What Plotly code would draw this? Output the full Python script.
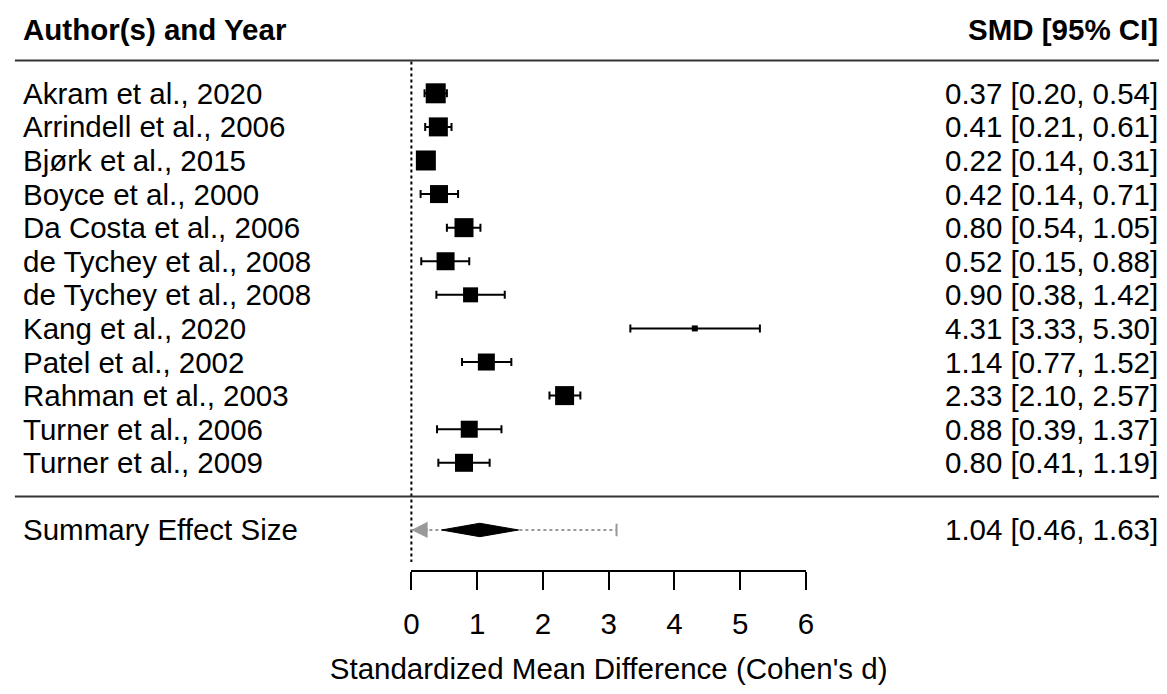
import plotly.graph_objects as go

# ---- data ----
studies = ["Akram et al., 2020", "Arrindell et al., 2006", "Bjørk et al., 2015",
           "Boyce et al., 2000", "Da Costa et al., 2006", "de Tychey et al., 2008",
           "de Tychey et al., 2008", "Kang et al., 2020", "Patel et al., 2002",
           "Rahman et al., 2003", "Turner et al., 2006", "Turner et al., 2009"]
smd = [0.37, 0.41, 0.22, 0.42, 0.80, 0.52, 0.90, 4.31, 1.14, 2.33, 0.88, 0.80]
ci_lo = [0.20, 0.21, 0.14, 0.14, 0.54, 0.15, 0.38, 3.33, 0.77, 2.10, 0.39, 0.41]
ci_hi = [0.54, 0.61, 0.31, 0.71, 1.05, 0.88, 1.42, 5.30, 1.52, 2.57, 1.37, 1.19]

summary_est = 1.04
summary_lo = 0.46
summary_hi = 1.63
pi_lo = -1.04
pi_hi = 3.12

x_ticks = [0, 1, 2, 3, 4, 5, 6]
x_min, x_max = 0, 6

# ---- styling ----
marker_px = [20, 19, 20, 18, 19, 18, 15, 6, 17, 19, 17, 18]
FONT = "Liberation Sans, Arial, sans-serif"
FS = 29.5
W, H = 1167, 694
px0, px6 = 409, 809
ppu = (px6 - px0) / (x_max - x_min)
row0_px, row_step = 93.3, 33.59
left_text_px, right_text_px = 15, 1166

rows = list(range(1, len(studies) + 1))
summary_row = len(studies) + 2
sep_row = len(studies) + 1
header_row = -0.9

xr = [x_min - px0 / ppu, x_min + (W - px0) / ppu]
yr = [1 + (H - row0_px) / row_step, 1 - row0_px / row_step]

fig = go.Figure()

# reference line at 0
fig.add_trace(go.Scatter(x=[0, 0], y=[0.05, 14.95], mode="lines",
                         line=dict(color="black", width=2, dash="dot"),
                         hoverinfo="skip", showlegend=False))

# study estimates with CIs
fig.add_trace(go.Scatter(
    x=smd, y=rows, mode="markers",
    marker=dict(symbol="square", size=marker_px, color="black", opacity=1,
                line=dict(width=0)),
    error_x=dict(type="data", symmetric=False,
                 array=[h - e for h, e in zip(ci_hi, smd)],
                 arrayminus=[e - l for e, l in zip(smd, ci_lo)],
                 color="black", thickness=2, width=4),
    showlegend=False, cliponaxis=False))

# prediction interval (dotted gray)
fig.add_trace(go.Scatter(x=[max(pi_lo, x_min), pi_hi], y=[summary_row] * 2,
                         mode="lines", line=dict(color="#999999", width=2, dash="dot"),
                         showlegend=False, hoverinfo="skip"))
fig.add_trace(go.Scatter(x=[pi_hi], y=[summary_row], mode="markers",
                         marker=dict(symbol="line-ns", size=9, opacity=1,
                                     line=dict(color="#999999", width=2)),
                         showlegend=False, cliponaxis=False))
fig.add_annotation(x=max(pi_lo, x_min), y=summary_row, xref="x", yref="y",
                   ax=18, ay=0, axref="pixel", ayref="pixel", text="",
                   showarrow=True, arrowhead=2, arrowsize=1.3, arrowwidth=2.5,
                   arrowcolor="#999999")

# summary diamond
dh = 0.2
fig.add_trace(go.Scatter(
    x=[summary_lo, summary_est, summary_hi, summary_est, summary_lo],
    y=[summary_row, summary_row - dh, summary_row, summary_row + dh, summary_row],
    mode="lines", fill="toself", fillcolor="black",
    line=dict(color="black", width=1), showlegend=False))

# axis-only subplot
fig.add_trace(go.Scatter(x=[None], y=[None], xaxis="x2", yaxis="y2",
                         showlegend=False))

# texts
def fmt(e, l, h):
    return f"{e:.2f} [{l:.2f}, {h:.2f}]"

ann = []
ann.append(dict(x=left_text_px / W, y=header_row, text="<b>Author(s) and Year</b>", xanchor="left"))
ann.append(dict(x=right_text_px / W, y=header_row, text="<b>SMD [95% CI]</b>", xanchor="right"))
for r, s, e, l, h in zip(rows, studies, smd, ci_lo, ci_hi):
    ann.append(dict(x=left_text_px / W, y=r, text=s, xanchor="left"))
    ann.append(dict(x=right_text_px / W, y=r, text=fmt(e, l, h), xanchor="right"))
ann.append(dict(x=left_text_px / W, y=summary_row, text="Summary Effect Size", xanchor="left"))
ann.append(dict(x=right_text_px / W, y=summary_row,
                text=fmt(summary_est, summary_lo, summary_hi), xanchor="right"))
for a in ann:
    fig.add_annotation(**a, xref="paper", yref="y", yanchor="middle", showarrow=False,
                       font=dict(family=FONT, size=FS, color="black"),
                       borderpad=0, borderwidth=0)

# horizontal rules
for yy in [0.02, sep_row]:
    fig.add_shape(type="line", xref="paper", yref="y", x0=7 / W, x1=1,
                  y0=yy, y1=yy, line=dict(color="#333333", width=2))

axis_line_px = 570
fig.update_layout(
    width=W, height=H, margin=dict(l=0, r=0, t=0, b=0),
    paper_bgcolor="white", plot_bgcolor="rgba(0,0,0,0)",
    font=dict(family=FONT, size=FS, color="black"),
    xaxis=dict(domain=[0, 1], range=xr, visible=False, fixedrange=True),
    yaxis=dict(domain=[0, 1], range=yr, visible=False, fixedrange=True),
    xaxis2=dict(domain=[px0 / W, px6 / W], range=[x_min, x_max], anchor="y2",
                tickvals=x_ticks, ticktext=[str(t) for t in x_ticks],
                showline=True, linecolor="black", linewidth=2,
                ticks="outside", ticklen=18, tickwidth=2, tickcolor="black",
                ticklabelstandoff=9,
                tickfont=dict(family=FONT, size=FS, color="black"),
                showgrid=False, zeroline=False, fixedrange=True,
                title=dict(text="Standardized Mean Difference (Cohen's d)",
                           font=dict(family=FONT, size=FS, color="black"),
                           standoff=19)),
    yaxis2=dict(domain=[1 - axis_line_px / H, 1 - axis_line_px / H + 0.01],
                visible=False, range=[0, 1], fixedrange=True),
    showlegend=False,
)

fig.write_html("out.html", config={"displayModeBar": False},
               post_script="document.body.style.margin='0';document.body.style.overflow='hidden';")
